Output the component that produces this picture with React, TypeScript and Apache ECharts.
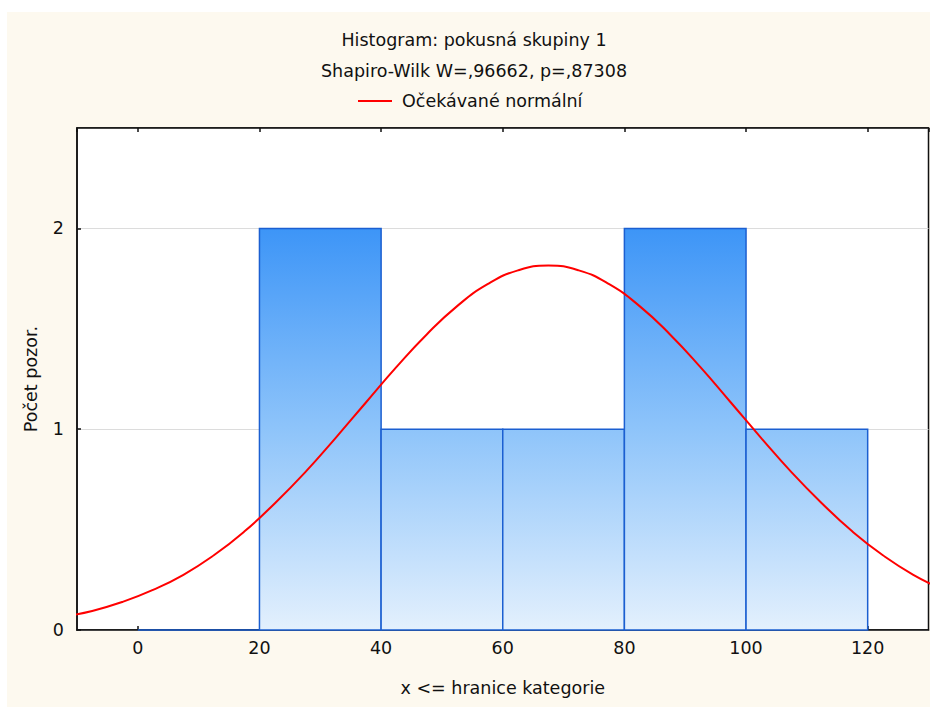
import React, { useEffect, useRef } from "react";
import * as echarts from "echarts";

const titleText = "Histogram: pokusná skupiny 1";
const subtitleText = "Shapiro-Wilk W=,96662, p=,87308";
const legendName = "Očekávané normální";
const xName = "x <= hranice kategorie";
const yName = "Počet pozor.";

const binStarts = [0, 20, 40, 60, 80, 100];
const binEnds = [20, 40, 60, 80, 100, 120];
const binCounts = [0, 2, 1, 1, 2, 1];

const curveX = [-12.5, -7.5, -2.5, 2.5, 7.5, 12.5, 17.5, 22.5, 27.5, 32.5, 37.5, 42.5, 47.5, 52.5, 57.5, 62.5, 67.5, 72.5, 77.5, 82.5, 87.5, 92.5, 97.5, 102.5, 107.5, 112.5, 117.5, 122.5, 127.5, 132.5];
const curveY = [0.065, 0.095, 0.14, 0.2, 0.275, 0.372, 0.49, 0.63, 0.785, 0.956, 1.133, 1.309, 1.472, 1.613, 1.722, 1.791, 1.815, 1.791, 1.722, 1.613, 1.472, 1.309, 1.133, 0.956, 0.785, 0.63, 0.49, 0.372, 0.275, 0.2];

const FONT = "DejaVu Sans";
const FS = 17.5;

export default function App() {
  const ref = useRef<HTMLDivElement>(null);
  useEffect(() => {
    if (!ref.current) return;
    const chart = echarts.init(ref.current, undefined, { renderer: "svg" });
    const barData = binStarts.map((s, i) => [s, binEnds[i], binCounts[i]]);
    const curveData = curveX.map((x, i) => [x, curveY[i]]);
    const option: any = {
      animation: false,
      backgroundColor: "#ffffff",
      textStyle: { fontFamily: FONT },
      graphic: [
        {
          type: "rect",
          z: -10,
          silent: true,
          shape: { x: 7, y: 12, width: 923, height: 695 },
          style: { fill: "#fdf9ef" },
        },
      ],
      title: {
        text: titleText,
        subtext: subtitleText,
        left: 474,
        top: 29.5,
        textAlign: "center",
        padding: 0,
        itemGap: 9.5,
        textStyle: { fontFamily: FONT, fontSize: FS, fontWeight: "normal", color: "#111", lineHeight: 21 },
        subtextStyle: { fontFamily: FONT, fontSize: FS, color: "#111", lineHeight: 21 },
      },
      legend: {
        data: [legendName],
        left: 358,
        top: 92,
        padding: 0,
        icon: "rect",
        itemWidth: 34,
        itemHeight: 2,
        textStyle: { fontFamily: FONT, fontSize: FS, color: "#111", padding: [0, 0, 0, 5] },
      },
      grid: {
        left: 77,
        right: 1.5,
        top: 128,
        bottom: 77,
        show: true,
        backgroundColor: "#ffffff",
        borderColor: "#111",
        borderWidth: 1.5,
        containLabel: false,
      },
      xAxis: [
        {
          type: "value",
          min: -10,
          max: 130,
          splitNumber: 7,
          position: "bottom",
          name: xName,
          nameLocation: "middle",
          nameGap: 49,
          nameTextStyle: { fontFamily: FONT, fontSize: FS, color: "#111" },
          axisLine: { show: true, onZero: false, lineStyle: { color: "#111", width: 1.5 } },
          axisTick: { show: true, inside: true, length: 4, lineStyle: { color: "#111", width: 1.5 } },
          axisLabel: {
            show: true,
            margin: 9,
            fontFamily: FONT,
            fontSize: FS,
            color: "#111",
            showMinLabel: false,
            showMaxLabel: false,
            formatter: (v: number) => (v % 20 === 0 ? String(v) : ""),
          },
          splitLine: { show: false },
        },
        {
          type: "value",
          min: -10,
          max: 130,
          splitNumber: 7,
          position: "top",
          axisLine: { show: true, onZero: false, lineStyle: { color: "#111", width: 1.5 } },
          axisTick: { show: true, inside: true, length: 4, lineStyle: { color: "#111", width: 1.5 } },
          axisLabel: { show: false },
          splitLine: { show: false },
        },
      ],
      yAxis: {
        type: "value",
        min: 0,
        max: 2.5,
        interval: 1,
        position: "left",
        name: yName,
        nameLocation: "middle",
        nameRotate: 90,
        nameGap: 37,
        nameTextStyle: { fontFamily: FONT, fontSize: FS, color: "#111" },
        axisLine: { show: true, onZero: false, lineStyle: { color: "#111", width: 1.5 } },
        axisTick: { show: true, inside: true, length: 4, lineStyle: { color: "#111", width: 1.5 } },
        axisLabel: {
          margin: 13,
          fontFamily: FONT,
          fontSize: FS,
          color: "#111",
          showMaxLabel: false,
          formatter: (v: number) => (Number.isInteger(v) ? String(v) : ""),
        },
        splitLine: { show: true, lineStyle: { color: "#dcdcdc", width: 1 } },
      },
      series: [
        {
          type: "custom",
          name: "Histogram",
          xAxisIndex: 0,
          yAxisIndex: 0,
          data: barData,
          encode: { x: [0, 1], y: 2 },
          z: 2,
          renderItem: (params: any, api: any) => {
            const x0 = api.value(0);
            const x1 = api.value(1);
            const c = api.value(2);
            const pTop = api.coord([x0, c]);
            const pBot = api.coord([x1, 0]);
            const yTwo = api.coord([0, 2])[1];
            const yZero = api.coord([0, 0])[1];
            const fill = new echarts.graphic.LinearGradient(
              0,
              yTwo,
              0,
              yZero,
              [
                { offset: 0, color: "#3d95f7" },
                { offset: 0.5, color: "#8ec4fa" },
                { offset: 1, color: "#e3f0fd" },
              ],
              true
            );
            return {
              type: "rect",
              shape: { x: pTop[0], y: pTop[1], width: pBot[0] - pTop[0], height: pBot[1] - pTop[1] },
              style: { fill, stroke: "#1b5fd1", lineWidth: 1.5 },
            };
          },
        },
        {
          type: "line",
          name: legendName,
          xAxisIndex: 0,
          yAxisIndex: 0,
          data: curveData,
          smooth: 0.5,
          clip: true,
          showSymbol: false,
          symbol: "none",
          z: 5,
          lineStyle: { color: "#ff0000", width: 2 },
          itemStyle: { color: "#ff0000" },
        },
      ],
    };
    chart.setOption(option);
    return () => chart.dispose();
  }, []);
  return (
    <div style={{ position: "fixed", left: 0, top: 0, width: 930, height: 707, background: "#fff" }}>
      <div ref={ref} style={{ width: 930, height: 707 }} />
    </div>
  );
}
